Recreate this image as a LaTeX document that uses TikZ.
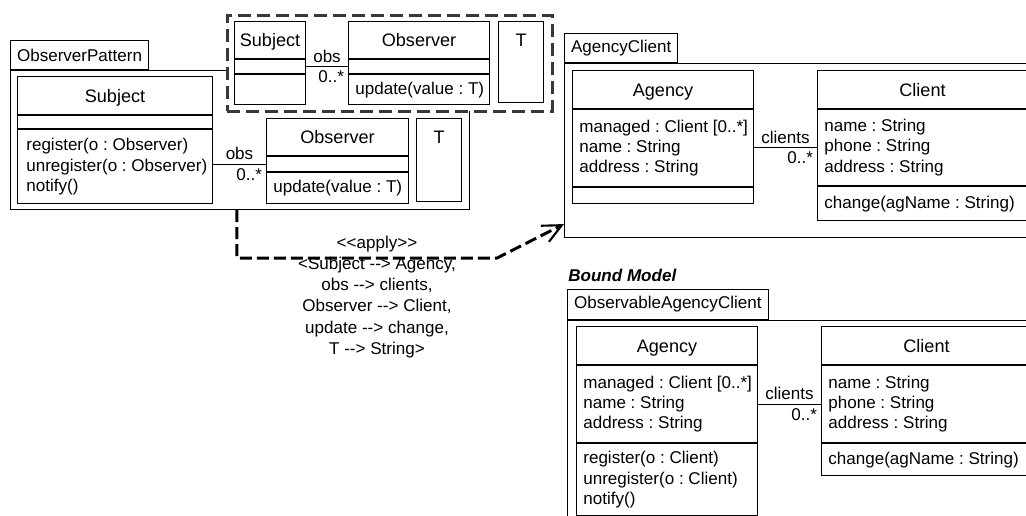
\documentclass[tikz,border=0pt]{standalone}
\usepackage{fontspec}
\setmainfont{Liberation Sans}[Ligatures=TeXOff]
\frenchspacing
\usetikzlibrary{arrows.meta}

\tikzset{
    umlline/.style={line width=0.6pt},
    pkgtab/.style={draw, umlline, anchor=north west, inner xsep=0.13cm,
        inner ysep=0pt, minimum height=0.58cm,
        font=\fontsize{9.7}{11.6}\selectfont},
    pkgbody/.style={draw, umlline, anchor=north west, inner sep=0pt},
    classname/.style={draw, umlline, anchor=north west, inner sep=0pt,
        text height=0.26cm, text depth=0pt,
        font=\fontsize{10.3}{12.4}\selectfont},
    members/.style={draw, umlline, anchor=north west, inner sep=0pt},
    memtext/.style={anchor=west, xshift=0.14cm, inner sep=0pt, align=left,
        font=\fontsize{9.7}{11.6}\selectfont},
    role/.style={font=\fontsize{9.7}{11.6}\selectfont, inner sep=2pt},
    bindbox/.style={draw=black!78, line width=1.6pt,
        dash pattern=on 0.26cm off 0.12cm, fill=white,
        anchor=north west, inner sep=0pt},
    applydep/.style={line width=1.7pt, dash pattern=on 0.24cm off 0.1cm,
        -{Straight Barb[length=0.38cm, width=0.36cm, line width=1.2pt]}},
}

\begin{document}
\begin{tikzpicture}[x=0.02cm, y=-0.02cm]
    \useasboundingbox (0,0) rectangle (1026,515);
    \clip (0,0) rectangle (1026,515);

    % Packages
    \node[pkgtab] (patternTab) at (10,40) {ObserverPattern};
    \node[pkgbody, minimum width=9.18cm, minimum height=2.78cm]
        (patternBody) at (patternTab.south west) {};
    \node[pkgtab] (agencyTab) at (564,33) {AgencyClient};
    \node[pkgbody, minimum width=9.6cm, minimum height=3.48cm]
        (agencyBody) at (agencyTab.south west) {};
    \node[pkgtab, minimum height=0.6cm] (boundTab) at (567,289)
        {ObservableAgencyClient};
    \node[pkgbody, minimum width=9.6cm, minimum height=4.6cm]
        (boundBody) at (boundTab.south west) {};

    % Template parameters (dashed box)
    \node[bindbox, minimum width=6.5cm, minimum height=1.92cm]
        (params) at (226,14) {};

    \node[classname, minimum width=1.42cm, minimum height=0.74cm]
        (subjA-name) at (234,21) {Subject};
    \node[members, minimum width=1.42cm, minimum height=0.28cm]
        (subjA-attr) at (subjA-name.south west) {};
    \node[members, minimum width=1.42cm, minimum height=0.6cm]
        (subjA-ops) at (subjA-attr.south west) {};

    \node[classname, minimum width=2.82cm, minimum height=0.74cm]
        (obsA-name) at (348,21) {Observer};
    \node[members, minimum width=2.82cm, minimum height=0.28cm]
        (obsA-attr) at (obsA-name.south west) {};
    \node[members, minimum width=2.82cm, minimum height=0.6cm,
        label={[memtext]west:{update(value : T)}}]
        (obsA-ops) at (obsA-attr.south west) {};

    \node[members, minimum width=0.9cm, minimum height=1.62cm]
        (tA) at (498,21) {};
    \node[classname, draw=none, anchor=north, minimum height=0.74cm]
        (tA-name) at (tA.north) {T};

    \draw[umlline] (subjA-attr.east) -- (obsA-attr.west)
        node[role, midway, above] (obsRoleA) {obs}
        node[role, pos=1, below left] (obsMultA) {0..*};

    % Observer pattern
    \node[classname, minimum width=3.9cm, minimum height=0.76cm]
        (subjB-name) at (17,76) {Subject};
    \node[members, minimum width=3.9cm, minimum height=0.26cm]
        (subjB-attr) at (subjB-name.south west) {};
    \node[members, minimum width=3.9cm, minimum height=1.48cm,
        label={[memtext, xshift=0.04cm]west:{register(o : Observer)\\
            unregister(o : Observer)\\notify()}}]
        (subjB-ops) at (subjB-attr.south west) {};

    \node[classname, minimum width=2.84cm, minimum height=0.74cm]
        (obsB-name) at (266,118) {Observer};
    \node[members, minimum width=2.84cm, minimum height=0.3cm]
        (obsB-attr) at (obsB-name.south west) {};
    \node[members, minimum width=2.84cm, minimum height=0.62cm,
        label={[memtext]west:{update(value : T)}}]
        (obsB-ops) at (obsB-attr.south west) {};

    \node[members, minimum width=0.9cm, minimum height=1.66cm]
        (tB) at (416,118) {};
    \node[classname, draw=none, anchor=north, minimum height=0.74cm]
        (tB-name) at (tB.north) {T};

    \draw[umlline] (obsB-attr.west -| subjB-ops.east) -- (obsB-attr.west)
        node[role, midway, above] (obsRoleB) {obs}
        node[role, pos=1, below left] (obsMultB) {0..*};

    % AgencyClient
    \node[classname, minimum width=3.62cm, minimum height=0.76cm]
        (agencyA-name) at (572,70) {Agency};
    \node[members, minimum width=3.62cm, minimum height=1.54cm,
        label={[memtext]west:{managed : Client [0..*]\\name : String\\
            address : String}}]
        (agencyA-attr) at (agencyA-name.south west) {};
    \node[members, minimum width=3.62cm, minimum height=0.32cm]
        (agencyA-ops) at (agencyA-attr.south west) {};

    \node[classname, minimum width=4.2cm, minimum height=0.76cm]
        (clientA-name) at (817,70) {Client};
    \node[members, minimum width=4.2cm, minimum height=1.52cm,
        label={[memtext]west:{name : String\\phone : String\\
            address : String}}]
        (clientA-attr) at (clientA-name.south west) {};
    \node[members, minimum width=4.2cm, minimum height=0.68cm,
        label={[memtext]west:{change(agName : String)}}]
        (clientA-ops) at (clientA-attr.south west) {};

    \draw[umlline] (clientA-attr.west -| agencyA-attr.east) -- (clientA-attr.west)
        node[role, midway, above] (clientsRoleA) {clients}
        node[role, pos=1, below left] (clientsMultA) {0..*};

    % apply dependency
    \draw[applydep] ([xshift=4.54cm]patternBody.south west) -- ++(0,48)
        -- ++(260,0) -- ([yshift=0.28cm]agencyBody.south west);
    \node[role, align=center, font=\fontsize{9.7}{12}\selectfont]
        (applyLabel) at (377,297)
        {<<apply>>\\<Subject --> Agency,\\obs --> clients,\\
         Observer --> Client,\\update --> change,\\T --> String>};

    % Bound model
    \node[anchor=west, inner sep=0pt,
        font=\fontsize{9.7}{11.6}\selectfont\bfseries\itshape]
        (boundTitle) at (568,275) {Bound Model};

    \node[classname, minimum width=3.62cm, minimum height=0.76cm]
        (agencyB-name) at (576,326) {Agency};
    \node[members, minimum width=3.62cm, minimum height=1.54cm,
        label={[memtext]west:{managed : Client [0..*]\\name : String\\
            address : String}}]
        (agencyB-attr) at (agencyB-name.south west) {};
    \node[members, minimum width=3.62cm, minimum height=1.44cm,
        label={[memtext]west:{register(o : Client)\\unregister(o : Client)\\
            notify()}}]
        (agencyB-ops) at (agencyB-attr.south west) {};

    \node[classname, minimum width=4.2cm, minimum height=0.76cm]
        (clientB-name) at (821,326) {Client};
    \node[members, minimum width=4.2cm, minimum height=1.54cm,
        label={[memtext]west:{name : String\\phone : String\\
            address : String}}]
        (clientB-attr) at (clientB-name.south west) {};
    \node[members, minimum width=4.2cm, minimum height=0.64cm,
        label={[memtext]west:{change(agName : String)}}]
        (clientB-ops) at (clientB-attr.south west) {};

    \draw[umlline] (clientB-attr.west -| agencyB-attr.east) -- (clientB-attr.west)
        node[role, midway, above] (clientsRoleB) {clients}
        node[role, pos=1, below left] (clientsMultB) {0..*};

\end{tikzpicture}
\end{document}
